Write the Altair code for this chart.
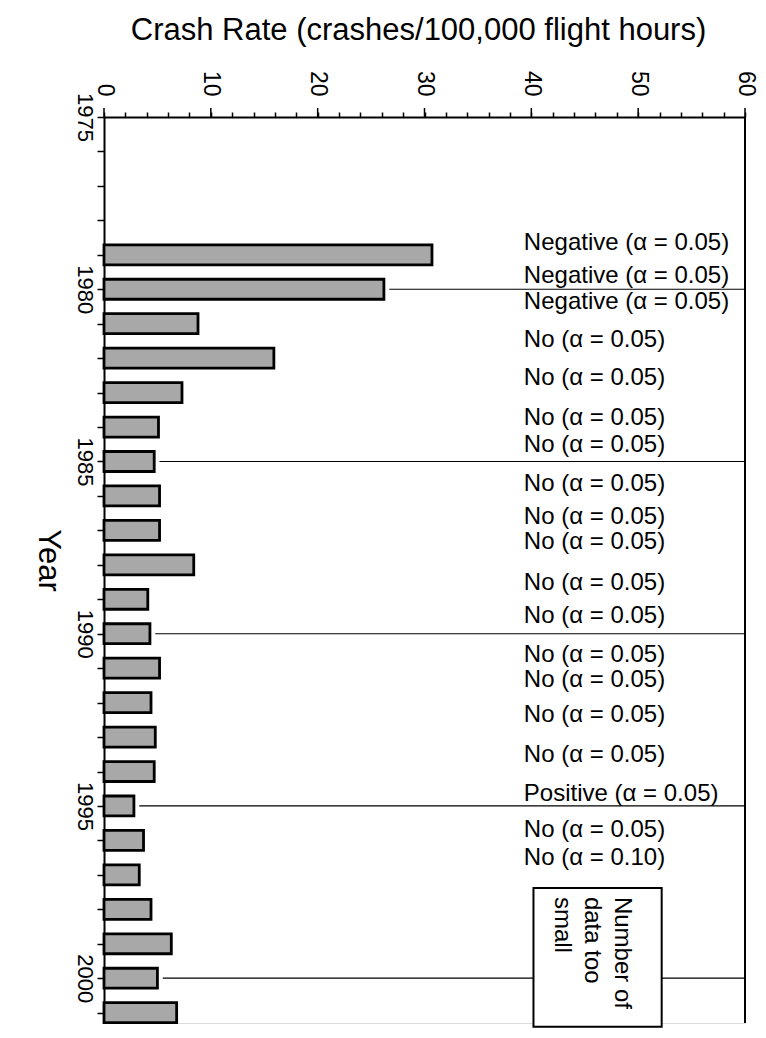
import altair as alt
import pandas as pd

# ---- data ----
years = list(range(1979, 2002))
rates = [30.7, 26.2, 8.8, 15.9, 7.3, 5.1, 4.7, 5.2, 5.2, 8.4, 4.1, 4.3,
         5.2, 4.4, 4.8, 4.7, 2.8, 3.7, 3.3, 4.4, 6.3, 5.0, 6.8]

marker_years = [1980, 1985, 1990, 1995, 2000]

ann_labels = (["Negative (α = 0.05)"] * 3
              + ["No (α = 0.05)"] * 13
              + ["Positive (α = 0.05)", "No (α = 0.05)", "No (α = 0.10)"])
ann_rows = [1978.66, 1979.62, 1980.37, 1981.47, 1982.58, 1983.74, 1984.52,
            1985.65, 1986.61, 1987.34, 1988.53, 1989.49, 1990.62, 1991.34,
            1992.36, 1993.52, 1994.65, 1995.70, 1996.51]

box_text = "Number of\ndata too\nsmall"
box_x = [40.2, 52.2]
box_y = [1997.38, 2001.41]

x_ticks = list(range(0, 61, 2))
x_major = list(range(0, 61, 10))
y_ticks = list(range(1975, 2002))

W, H = 641, 906
FONT = "Liberation Sans"

x_scale = alt.Scale(domain=[0, 60], nice=False, zero=False)
y_scale = alt.Scale(domain=[1975, 2001.3], reverse=True, nice=False, zero=False)

x_axis = alt.Axis(
    orient="top", values=x_ticks, tickSize=5, tickWidth=1.5,
    tickColor="black", domainColor="black", domainWidth=2,
    labelExpr="datum.value % 10 == 0 ? datum.label : ''",
    labelAngle=90, labelAlign="right", labelBaseline="middle",
    labelPadding=16, labelFontSize=23, labelFont=FONT, labelColor="black",
    labelOverlap=False, labelFlush=False, grid=False,
    title="Crash Rate (crashes/100,000 flight hours)",
    titleFont=FONT, titleFontSize=31, titleFontWeight="normal",
    titleColor="black", titleX=314, titleY=-87, titleAlign="center",
    titleBaseline="middle", titleAngle=0)

y_axis = alt.Axis(
    orient="left", values=y_ticks, format="d", tickSize=7, tickWidth=1.5,
    tickColor="black", domainColor="black", domainWidth=2,
    labelExpr="datum.value % 5 == 0 ? datum.label : ''",
    labelAngle=90, labelAlign="center", labelBaseline="top",
    labelPadding=3, labelFontSize=22, labelFont=FONT, labelColor="black",
    labelOverlap=False, labelFlush=False, grid=False,
    title="Year", titleFont=FONT, titleFontSize=31,
    titleFontWeight="normal", titleColor="black", titleX=-57, titleY=443,
    titleAngle=90, titleAlign="center", titleBaseline="middle")


def X(field):
    return alt.X(field, scale=x_scale, axis=x_axis)


def Y(field):
    return alt.Y(field, scale=y_scale, axis=y_axis)


bars_df = pd.DataFrame({"year": years, "rate": rates})

bars = alt.Chart(bars_df).transform_calculate(
    lo="datum.year - 0.29", hi="datum.year + 0.29", zero="0"
).mark_rect(fill="#a8a8a8", stroke="black", strokeWidth=2.8).encode(
    x=X("zero:Q"), x2="rate:Q", y=Y("lo:Q"), y2="hi:Q",
)

major = alt.Chart(pd.DataFrame({"v": x_major})).mark_rule(
    color="black", strokeWidth=1.5
).encode(x=X("v:Q"), y=alt.value(-9), y2=alt.value(0))

border = alt.Chart(pd.DataFrame({"v": [60]})).mark_rule(
    color="black", strokeWidth=2
).encode(x=X("v:Q"), y=alt.value(0), y2=alt.value(H))

# marker lines from the bar end to the right border (split around the box)
rate_of = dict(zip(years, rates))
seg = []
for yr in marker_years:
    start = rate_of[yr] + 0.5
    if yr == 2000:
        seg.append({"year": yr, "a": start, "b": box_x[0]})
        seg.append({"year": yr, "a": box_x[1], "b": 60})
    else:
        seg.append({"year": yr, "a": start, "b": 60})
lines = alt.Chart(pd.DataFrame(seg)).mark_rule(
    color="black", strokeWidth=1.2
).encode(x=X("a:Q"), x2="b:Q", y=Y("year:Q"))

box = alt.Chart(pd.DataFrame({"x0": [box_x[0]], "x1": [box_x[1]],
                              "y0": [box_y[0]], "y1": [box_y[1]]})).mark_rect(
    fill="white", stroke="black", strokeWidth=2
).encode(x=X("x0:Q"), x2="x1:Q", y=Y("y0:Q"), y2="y1:Q")

box_lbl = alt.Chart(pd.DataFrame({"t": [box_text], "x": [48.5],
                                  "y": [1997.64]})).mark_text(
    angle=90, align="left", baseline="middle", lineBreak="\n",
    lineHeight=30, fontSize=24, font=FONT, color="black"
).encode(x=X("x:Q"), y=Y("y:Q"), text="t:N")

ann = alt.Chart(pd.DataFrame({"label": ann_labels, "y": ann_rows,
                              "x": [39.3] * len(ann_rows)})).mark_text(
    align="left", baseline="middle", fontSize=24, font=FONT, color="black"
).encode(x=X("x:Q"), y=Y("y:Q"), text="label:N")

chart = alt.layer(bars, major, border, lines, box, box_lbl, ann).properties(
    width=W, height=H,
    padding={"left": 96, "top": 109, "right": 13, "bottom": 7},
    autosize=alt.AutoSizeParams(type="none"),
).configure_view(stroke=None).configure(background="white")

chart.save("out.html", embed_options={"renderer": "svg", "actions": False})
